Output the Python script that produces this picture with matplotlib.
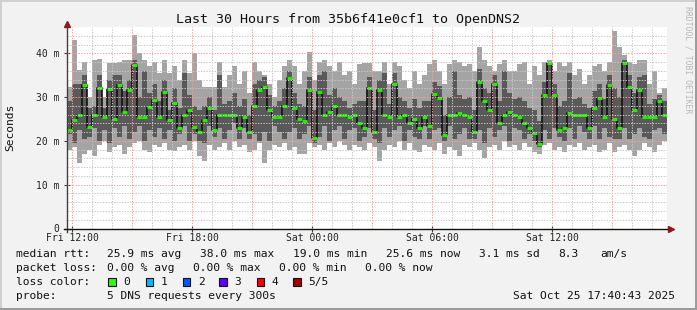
import numpy as np
import matplotlib
matplotlib.use('Agg')
import matplotlib.pyplot as plt
from matplotlib.patches import Rectangle

# 15 minute bins, first bin starts Fri 11:44 (hours relative to Fri 12:00)
T0 = -0.2667
STEP = 0.25

# median rtt (ms)
med = [22.5, 24.8, 25.9, 32.8, 23.2, 25.9, 32.0, 25.5, 31.8, 25.0,
       32.8, 26.7, 31.6, 37.3, 25.5, 25.5, 27.7, 29.3, 25.5, 31.2,
       24.8, 28.6, 22.9, 25.9, 27.0, 23.2, 22.1, 24.8, 27.4, 22.5,
       25.9, 25.9, 25.9, 25.9, 23.0, 25.5, 22.0, 28.0, 31.6, 32.4,
       27.0, 25.5, 25.5, 28.0, 34.3, 27.5, 25.0, 24.5, 31.6, 20.6,
       31.2, 26.0, 26.5, 28.0, 25.9, 25.9, 25.5, 25.9, 24.0, 23.0,
       32.0, 22.0, 31.6, 26.0, 25.5, 33.1, 25.5, 25.9, 24.0, 25.0,
       23.0, 25.5, 23.5, 30.8, 29.7, 21.3, 25.9, 25.9, 26.3, 25.9,
       25.5, 22.0, 33.5, 29.0, 27.0, 33.0, 24.0, 25.9, 26.5, 25.9,
       25.5, 24.0, 23.0, 21.8, 19.4, 30.5, 37.7, 30.5, 22.5, 23.0,
       26.3, 25.9, 25.9, 25.9, 23.0, 27.5, 29.7, 25.5, 32.7, 25.0,
       23.0, 37.7, 32.4, 27.0, 31.6, 25.5, 25.5, 25.5, 29.0, 25.9]

# slowest ping of each bin
hi = [32.4, 43.0, 36.2, 38.0, 30.0, 38.5, 38.8, 30.0, 37.7, 37.7,
      38.0, 38.5, 38.5, 44.2, 40.0, 38.5, 37.0, 38.0, 35.5, 38.5,
      35.5, 37.0, 34.0, 38.5, 35.5, 40.0, 34.0, 32.4, 32.4, 32.4,
      38.0, 32.4, 35.0, 37.0, 33.0, 36.0, 31.0, 38.0, 36.0, 35.0,
      33.0, 30.0, 34.0, 37.0, 38.5, 37.0, 33.0, 36.0, 40.4, 34.0,
      38.0, 38.5, 37.0, 36.0, 38.0, 35.0, 36.0, 33.0, 37.5, 37.7,
      37.7, 36.0, 36.0, 38.0, 33.0, 38.0, 37.0, 34.0, 32.0, 36.0,
      33.0, 35.0, 37.5, 38.5, 36.0, 33.0, 37.5, 38.5, 38.0, 37.0,
      37.5, 36.0, 41.5, 38.5, 37.0, 36.0, 37.5, 38.5, 36.0, 36.0,
      37.5, 38.0, 33.0, 37.0, 35.0, 38.0, 38.5, 36.0, 38.0, 37.0,
      38.0, 35.0, 36.5, 33.0, 35.0, 37.0, 37.5, 36.0, 38.0, 45.0,
      41.5, 39.5, 38.0, 37.5, 38.5, 38.5, 33.0, 36.0, 31.0, 32.0]

# fastest ping of each bin
lo = [18.0, 18.5, 15.0, 17.0, 18.0, 16.5, 19.0, 20.0, 17.5, 18.5,
      19.0, 17.0, 18.5, 19.5, 20.0, 18.0, 17.5, 19.0, 18.5, 19.5,
      18.0, 17.8, 18.5, 19.0, 18.0, 20.0, 16.5, 15.5, 19.0, 18.0,
      18.5, 19.5, 18.0, 20.0, 18.5, 19.0, 17.5, 18.0, 19.5, 15.0,
      18.0, 19.0, 18.5, 19.5, 18.0, 18.5, 17.0, 17.0, 19.5, 18.5,
      19.0, 18.0, 19.5, 18.5, 20.0, 19.0, 18.0, 19.0, 18.5, 18.0,
      19.5, 18.5, 15.3, 18.0, 19.0, 18.5, 20.0, 18.0, 19.5, 18.0,
      17.5, 19.0, 18.5, 18.0, 19.5, 17.0, 18.5, 18.0, 16.5, 19.0,
      18.5, 19.5, 18.0, 16.0, 18.5, 19.0, 18.0, 20.0, 18.5, 19.0,
      18.0, 19.5, 18.5, 17.5, 17.0, 19.0, 19.5, 18.0, 18.5, 17.5,
      19.0, 18.5, 19.5, 18.0, 18.5, 19.0, 17.5, 18.0, 19.5, 17.5,
      18.5, 19.0, 18.0, 16.5, 18.0, 19.5, 18.5, 17.5, 19.0, 20.0]

# 2nd and 4th ping (inner smoke)
lo2 = [21.5, 19.5, 22.5, 20.5, 21.0, 23.0, 20.0, 22.5, 19.5, 23.0,
       21.0, 23.5, 20.5, 22.0, 23.5, 20.0, 22.5, 21.0, 23.0, 20.5,
       22.5, 20.0, 21.5, 23.5, 20.0, 21.5, 20.0, 19.5, 23.5, 21.0,
       23.0, 20.5, 22.5, 24.0, 20.5, 23.0, 20.5, 21.5, 20.0, 22.0,
       20.0, 23.5, 22.0, 20.5, 22.0, 23.0, 20.5, 21.5, 23.5, 19.5,
       21.0, 23.5, 20.0, 22.5, 23.5, 20.5, 22.5, 23.0, 20.0, 21.0,
       23.0, 20.5, 19.5, 23.0, 21.0, 22.5, 23.5, 20.0, 22.5, 21.0,
       20.5, 23.5, 20.5, 22.5, 23.0, 20.0, 23.5, 20.5, 21.5, 23.0,
       20.5, 20.5, 22.5, 19.5, 23.0, 21.0, 22.5, 23.5, 20.0, 23.0,
       22.5, 20.5, 21.5, 20.0, 18.5, 22.5, 20.5, 23.0, 21.0, 20.0,
       23.0, 20.5, 23.5, 22.0, 20.5, 23.5, 20.5, 23.0, 21.0, 20.5,
       20.5, 23.0, 20.5, 21.5, 23.0, 21.0, 20.5, 22.5, 23.0, 21.5]

hi2 = [29.0, 33.0, 33.0, 35.0, 27.5, 28.0, 35.0, 27.5, 34.0, 35.0,
       35.0, 31.5, 34.0, 38.5, 30.0, 36.0, 31.0, 33.0, 29.0, 34.0,
       27.0, 32.0, 27.5, 35.5, 30.5, 28.0, 27.0, 28.0, 30.0, 27.0,
       35.0, 28.5, 29.0, 31.0, 28.0, 29.5, 26.0, 33.0, 34.0, 34.5,
       30.5, 28.0, 29.0, 32.0, 36.0, 31.0, 28.5, 28.0, 34.5, 27.0,
       35.0, 36.0, 30.5, 32.0, 30.0, 29.0, 27.5, 28.5, 29.0, 29.0,
       34.5, 27.0, 34.0, 35.5, 28.5, 35.5, 30.0, 29.0, 27.5, 29.5,
       27.5, 29.0, 29.0, 33.5, 32.5, 26.0, 30.0, 36.0, 30.5, 29.5,
       30.0, 27.0, 36.5, 32.0, 31.0, 35.0, 29.0, 36.0, 31.0, 29.5,
       30.0, 29.0, 27.5, 27.0, 24.5, 33.5, 38.0, 33.0, 28.0, 29.0,
       35.5, 29.5, 30.0, 28.5, 27.5, 31.5, 33.0, 29.5, 35.0, 32.0,
       30.0, 38.5, 35.0, 31.0, 34.5, 35.0, 28.5, 29.5, 30.5, 29.0]

xtick_pos = [0, 6, 12, 18, 24]
xtick_lab = ['Fri 12:00', 'Fri 18:00', 'Sat 00:00', 'Sat 06:00', 'Sat 12:00']
ytick_pos = [0, 10, 20, 30, 40]
ytick_lab = ['0', '10 m', '20 m', '30 m', '40 m']

loss_labels = ['0', '1', '2', '3', '4', '5/5']
loss_colors = ['#26ff00', '#00b8ff', '#0059ff', '#5e00ff', '#ff0000', '#a00000']

MONO = 'DejaVu Sans Mono'
W, H = 697, 310


def px(x, y):
    return x / W, 1 - y / H


fig = plt.figure(figsize=(W / 100, H / 100), dpi=100, facecolor='#f2f2f2')
ax = fig.add_axes([67 / W, (H - 228.5) / H, 600 / W, 201.5 / H])
ax.set_facecolor('white')

t = T0 + STEP * np.arange(len(med))
lo, hi, lo2, hi2, med = map(np.array, (lo, hi, lo2, hi2, med))

ax.bar(t, hi - lo, bottom=lo, width=STEP, align='edge', color='#a4a4a4', linewidth=0, zorder=2)
ax.bar(t, hi2 - lo2, bottom=lo2, width=STEP, align='edge', color='#595959', linewidth=0, zorder=3)
ax.step(np.append(t, t[-1] + STEP), np.append(med, med[-1]), where='post',
        color='#111111', lw=1.2, zorder=4)
ax.hlines(med, t, t + STEP, color='#26ee00', lw=2.2, zorder=5)

# grid (drawn on top like rrdtool)
for h in range(0, 30):
    major = h % 3 == 0
    ax.axvline(h, color='#f0a0a0' if major else '#c8c8c8', lw=0.7,
               ls=(0, (1.4, 1.4)), zorder=6)
for v in range(2, 46, 2):
    major = v % 10 == 0
    ax.axhline(v, color='#f0a0a0' if major else '#c8c8c8', lw=0.7,
               ls=(0, (1.4, 1.4)), zorder=6)

ax.set_xlim(T0, T0 + 30)
ax.set_ylim(0, 46)
ax.set_xticks(xtick_pos, xtick_lab)
ax.set_yticks(ytick_pos, ytick_lab)
for lab in ax.get_xticklabels() + ax.get_yticklabels():
    lab.set_fontfamily(MONO)
ax.tick_params(axis='both', labelsize=7, length=4, width=0.8, direction='inout',
               color='#404040', labelcolor='#222222')
ax.tick_params(axis='x', pad=1.5)
ax.tick_params(axis='y', pad=3.5)
for s in ax.spines.values():
    s.set_visible(False)

# axis lines with arrow heads
ax.plot([0, 0], [-0.015, 1.01], transform=ax.transAxes, color='#404040', lw=1, clip_on=False, zorder=7)
ax.plot([-0.005, 1.005], [0, 0], transform=ax.transAxes, color='#111111', lw=1, clip_on=False, zorder=7)
ax.plot([0], [1.017], marker='^', ms=5, color='#8b1a1a', transform=ax.transAxes, clip_on=False, zorder=8)
ax.plot([1.007], [0], marker='>', ms=5, color='#8b1a1a', transform=ax.transAxes, clip_on=False, zorder=8)

# titles
fig.text(*px(348, 19), 'Last 30 Hours from 35b6f41e0cf1 to OpenDNS2', family=MONO,
         size=9.6, ha='center', va='center', color='#111111')
fig.text(*px(10.5, 127), 'Seconds', family=MONO, size=8.1, rotation=90,
         ha='center', va='center', color='#111111')
fig.text(*px(688, 60), 'RRDTOOL / TOBI OETIKER', family=MONO, size=5.9, rotation=270,
         ha='center', va='center', color='#b8b8b8')

# legend block
LS = 8.1
rows = [
    (254, [(16, 'median rtt:'), (107.3, '25.9 ms avg'), (200, '38.0 ms max'),
           (293.3, '19.0 ms min'), (386, '25.6 ms now'), (479.3, '3.1 ms sd'),
           (558.3, '8.3'), (600, 'am/s')]),
    (268.3, [(16, 'packet loss:'), (107.3, '0.00 % avg'), (193.3, '0.00 % max'),
             (279.3, '0.00 % min'), (365.3, '0.00 % now')]),
    (282.3, [(16, 'loss color:')]),
    (296, [(16, 'probe:'), (107.3, '5 DNS requests every 300s'),
           (513.3, 'Sat Oct 25 17:40:43 2025')]),
]
for y, items in rows:
    for x, s in items:
        fig.text(*px(x, y), s, family=MONO, size=LS, ha='left', va='center', color='#111111')

box_x = [108.3, 145.7, 182.7, 219.3, 256.7, 293.3]
for bx, lab, col in zip(box_x, loss_labels, loss_colors):
    x0, y0 = px(bx, 285.7)
    fig.patches.append(Rectangle((x0, y0), 7.5 / W, 8 / H, transform=fig.transFigure,
                                 facecolor=col, edgecolor='#111111', lw=0.8))
    fig.text(*px(bx + 15, 282.3), lab, family=MONO, size=LS, ha='left', va='center', color='#111111')

# frame
fig.patches.append(Rectangle((0, 1 - 2 / H), 1, 2 / H, transform=fig.transFigure, color='#d0d0d0', lw=0))
fig.patches.append(Rectangle((0, 0), 2 / W, 1, transform=fig.transFigure, color='#d0d0d0', lw=0))
fig.patches.append(Rectangle((0, 0), 1, 2 / H, transform=fig.transFigure, color='#9c9c9c', lw=0))
fig.patches.append(Rectangle((1 - 2 / W, 0), 2 / W, 1, transform=fig.transFigure, color='#9c9c9c', lw=0))

fig.savefig('out.png', dpi=100, facecolor=fig.get_facecolor())
